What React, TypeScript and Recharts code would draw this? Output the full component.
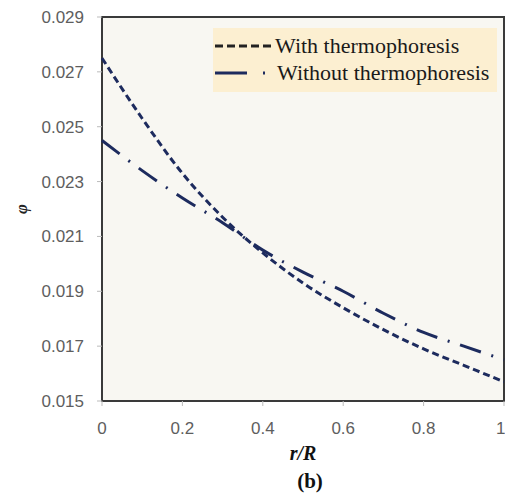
import React from 'react'
import {
  LineChart,
  Line,
  XAxis,
  YAxis,
  ReferenceArea,
  Legend,
} from 'recharts'

const rValues = [0, 0.1, 0.2, 0.3, 0.4, 0.5, 0.6, 0.7, 0.8, 0.9, 1]
const withThermo = [0.0275, 0.0253, 0.0233, 0.0217, 0.0204, 0.0193, 0.0184, 0.0176, 0.0169, 0.0163, 0.0157]
const withoutThermo = [0.0245, 0.0234, 0.0224, 0.0215, 0.0205, 0.0197, 0.019, 0.0182, 0.0175, 0.017, 0.0165]
const xTicks = [0, 0.2, 0.4, 0.6, 0.8, 1]
const yTicks = [0.015, 0.017, 0.019, 0.021, 0.023, 0.025, 0.027, 0.029]

const seriesNames = ['With thermophoresis', 'Without thermophoresis']

const data = rValues.map((r, i) => ({
  r,
  withT: withThermo[i],
  withoutT: withoutThermo[i],
}))

const navy = '#1d2b5e'
const tickFont = { fontFamily: 'Liberation Sans, sans-serif', fontSize: 17, fill: '#5e5e5e' }

const LegendBox = () => (
  <div
    style={{
      background: '#fcefd1',
      width: 284,
      height: 64,
      fontFamily: '"Liberation Serif", serif',
      fontSize: 22,
      lineHeight: '24px',
      color: '#1a1a1a',
      boxSizing: 'border-box',
      paddingTop: 4,
      whiteSpace: 'nowrap',
    }}
  >
    <div style={{ display: 'flex', alignItems: 'center', height: 27 }}>
      <svg width={62} height={10} style={{ flex: 'none' }}>
        <line x1={2} y1={5} x2={59} y2={5} stroke="#222" strokeWidth={3} strokeDasharray="8 4" />
      </svg>
      <span>{seriesNames[0]}</span>
    </div>
    <div style={{ display: 'flex', alignItems: 'center', height: 27 }}>
      <svg width={64} height={10} style={{ flex: 'none' }}>
        <line x1={2} y1={5} x2={60} y2={5} stroke={navy} strokeWidth={3} strokeDasharray="32 16 2 20" />
      </svg>
      <span>{seriesNames[1]}</span>
    </div>
  </div>
)

const YLabel = (props: any) => {
  const vb = props.viewBox
  const cy = vb.y + vb.height / 2
  return (
    <text
      x={21}
      y={cy}
      transform={`rotate(-90, 21, ${cy})`}
      textAnchor="middle"
      dominantBaseline="central"
      fontFamily='"Liberation Serif", serif'
      fontWeight="bold"
      fontStyle="italic"
      fontSize={17}
      fill="#222"
    >
      φ
    </text>
  )
}

const XLabel = (props: any) => {
  const vb = props.viewBox
  const cx = vb.x + vb.width / 2
  return (
    <g fontFamily='"Liberation Serif", serif' fontWeight="bold" fill="#111">
      <text x={cx} y={460} textAnchor="middle" fontStyle="italic" fontSize={20}>
        r/R
      </text>
      <text x={cx + 7} y={488} textAnchor="middle" fontSize={21}>
        (b)
      </text>
    </g>
  )
}

export default function App() {
  return (
    <div style={{ position: 'absolute', left: 0, top: 0, background: '#fff' }}>
      <LineChart
        width={505}
        height={494}
        data={data}
        margin={{ top: 17, right: 1, left: 0, bottom: 0 }}
      >
        <XAxis
          dataKey="r"
          type="number"
          domain={[0, 1]}
          ticks={xTicks}
          tickFormatter={(v: number) => String(v)}
          tick={tickFont}
          tickSize={5}
          tickMargin={16}
          axisLine={false}
          tickLine={{ stroke: '#bbb' }}
          height={93}
          label={<XLabel />}
        />
        <YAxis
          type="number"
          domain={[0.015, 0.029]}
          ticks={yTicks}
          tickFormatter={(v: number) => v.toFixed(3)}
          tick={tickFont}
          tickSize={5}
          tickMargin={13}
          axisLine={false}
          tickLine={{ stroke: '#bbb' }}
          width={102}
          label={<YLabel />}
        />
        <ReferenceArea
          x1={0}
          x2={1}
          y1={0.015}
          y2={0.029}
          fill="#f8f7f2"
          fillOpacity={1}
          stroke="#3a3a3a"
          strokeWidth={2}
        />
        <Line
          type="monotone"
          dataKey="withT"
          name={seriesNames[0]}
          stroke={navy}
          strokeWidth={3}
          strokeDasharray="7 4"
          dot={false}
          isAnimationActive={false}
        />
        <Line
          type="monotone"
          dataKey="withoutT"
          name={seriesNames[1]}
          stroke={navy}
          strokeWidth={3}
          strokeDasharray="22 11 2 11"
          dot={false}
          isAnimationActive={false}
        />
        <Legend
          layout="horizontal"
          verticalAlign="middle"
          content={<LegendBox />}
          wrapperStyle={{ position: 'absolute', left: 213, top: 28, width: 284, height: 64 }}
        />
      </LineChart>
    </div>
  )
}
